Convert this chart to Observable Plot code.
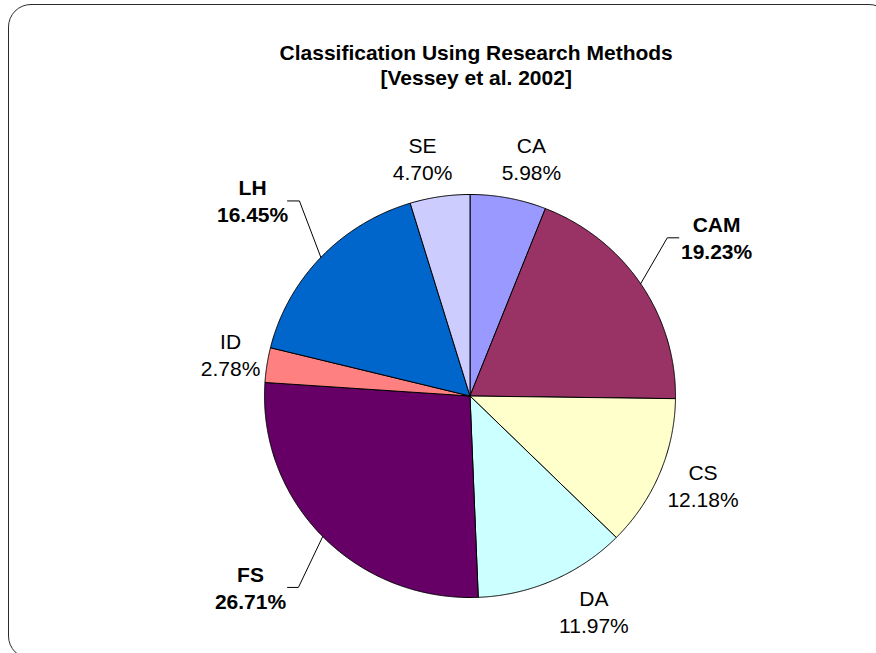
<!DOCTYPE html>
<html><head><meta charset="utf-8">
<script src="https://cdn.jsdelivr.net/npm/d3@7"></script>
<script src="https://cdn.jsdelivr.net/npm/@observablehq/plot@0.6"></script>
<style>
html,body{margin:0;padding:0;background:#fff;overflow:hidden;width:876px;height:653px}
#chart{position:absolute;left:0;top:0}
#frame{position:absolute;left:8px;top:4px;width:884px;height:655px;border:1.5px solid #2a2a2a;border-radius:23px;pointer-events:none;box-sizing:border-box}
</style></head><body>
<div id="chart"></div><div id="frame"></div>
<script>
// ---- data ----
const categories = ["CA", "CAM", "CS", "DA", "FS", "ID", "LH", "SE"];
const shares = [5.98, 19.23, 12.18, 11.97, 26.71, 2.78, 16.45, 4.70];
const colors = ["#9999FF", "#993366", "#FFFFCC", "#CCFFFF", "#660066", "#FF8080", "#0066CC", "#CCCCFF"];
const titleLines = ["Classification Using Research Methods", "[Vessey et al. 2002]"];

// ---- layout (label block centres, in pie units) ----
const labelAt = {
  CA: [0.299, 1.183], CAM: [1.200, 0.789], CS: [1.134, -0.440], DA: [0.603, -1.064],
  FS: [-1.068, -0.945], ID: [-1.165, 0.210], LH: [-1.058, 0.975], SE: [-0.231, 1.180]
};
const leaderAt = {
  LH: {elbow: [-0.830, 0.968], end: -0.888},
  CAM: {elbow: [0.960, 0.785], end: 1.016},
  FS: {elbow: [-0.835, -0.950], end: -0.888}
};
const titleX = 0.03;

const rows = categories.map((c, i) => ({category: c, value: shares[i]}));
const arcs = d3.pie().sort(null).value(d => d.value)(rows);

const wedgePts = [];
for (const a of arcs) {
  const c = a.data.category;
  wedgePts.push({category: c, x: 0, y: 0});
  const n = Math.max(2, Math.ceil((a.endAngle - a.startAngle) / 0.005));
  for (let k = 0; k <= n; k++) {
    const t = a.startAngle + (a.endAngle - a.startAngle) * k / n;
    wedgePts.push({category: c, x: Math.sin(t), y: Math.cos(t)});
  }
  wedgePts.push({category: c, x: 0, y: 0});
}

const leaderPts = [];
for (const a of arcs) {
  const c = a.data.category, L = leaderAt[c];
  if (!L) continue;
  const m = (a.startAngle + a.endAngle) / 2;
  leaderPts.push({category: c, x: Math.sin(m), y: Math.cos(m)});
  leaderPts.push({category: c, x: L.elbow[0], y: L.elbow[1]});
  leaderPts.push({category: c, x: L.end, y: L.elbow[1]});
}

const labels = rows.map(r => ({
  category: r.category,
  x: labelAt[r.category][0],
  y: labelAt[r.category][1],
  text: r.category + "\n" + r.value.toFixed(2) + "%",
  bold: r.value > 15
}));

const font = "'Liberation Sans', Arial, Helvetica, sans-serif";

const chart = Plot.plot({
  width: 876, height: 653,
  margin: 0,
  style: {fontFamily: font, background: "#fff"},
  x: {domain: [-1, 1], range: [264, 675], axis: null},
  y: {domain: [-1, 1], range: [597, 194], axis: null},
  color: {domain: categories, range: colors},
  marks: [
    Plot.line(wedgePts, {x: "x", y: "y", z: "category", fill: "category", stroke: "#000", strokeWidth: 1, strokeLinejoin: "round"}),
    Plot.line(leaderPts, {x: "x", y: "y", z: "category", stroke: "#000", strokeWidth: 1}),
    Plot.text(labels.filter(d => !d.bold), {x: "x", y: "y", text: "text", fontSize: 21, lineHeight: 1.29, fill: "#000", lineAnchor: "middle"}),
    Plot.text(labels.filter(d => d.bold), {x: "x", y: "y", text: "text", fontSize: 21, lineHeight: 1.29, fill: "#000", fontWeight: "bold", lineAnchor: "middle"}),
    Plot.text([titleLines.join("\n")], {x: () => titleX, frameAnchor: "top", lineAnchor: "top", dy: 42, text: d => d, fontSize: 21, fontWeight: "bold", lineHeight: 1.19, fill: "#000"})
  ]
});
document.getElementById("chart").appendChild(chart);
</script>
</body></html>
